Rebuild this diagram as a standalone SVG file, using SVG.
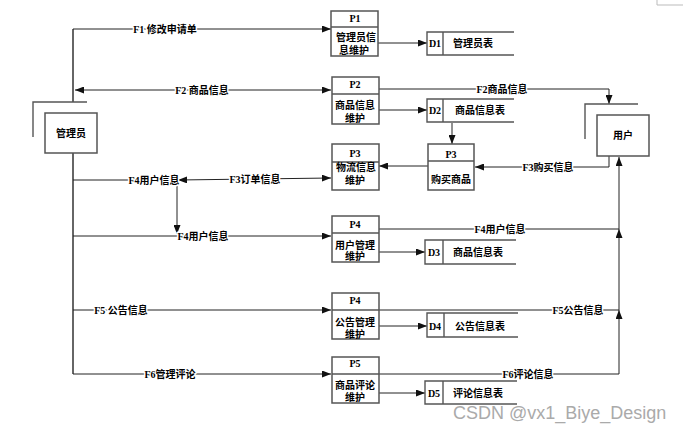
<svg xmlns="http://www.w3.org/2000/svg" width="685" height="431" viewBox="0 0 685 431">
<style>
.box{fill:#fff;stroke:#555;stroke-width:1.5}
.ln{fill:none;stroke:#555;stroke-width:1.4}
.c{fill:none;stroke:#222;stroke-width:1}
.cg{fill:none;stroke:#666;stroke-width:2}
.t{font-family:"Liberation Serif","Noto Sans CJK SC",serif;font-size:10px;font-weight:bold;fill:#000;text-anchor:middle;dominant-baseline:central}
.l{text-anchor:start}
.lb{paint-order:stroke;stroke:#fff;stroke-width:3px;stroke-linejoin:round}
.wm{font-family:"Liberation Sans","DejaVu Sans",sans-serif;font-size:18px;fill:#aaa;paint-order:stroke;stroke:#fff;stroke-width:2px}
</style>
<defs>
<marker id="a" viewBox="0 0 9 7" refX="9" refY="3.5" markerWidth="9" markerHeight="7" markerUnits="userSpaceOnUse" orient="auto-start-reverse">
<path d="M0,0 L9,3.5 L0,7 z" fill="#111"/>
</marker>
</defs>
<path d="M657,0 V5 H683" fill="none" stroke="#bbb" stroke-width="1"/>

<g id="connectors">
<path class="cg" d="M73,102 V29"/>
<path class="c" d="M73,29 H331" marker-end="url(#a)"/>
<path class="c" d="M75,90 H331" marker-start="url(#a)" marker-end="url(#a)"/>
<path class="c" d="M379,89 H609 V104" marker-end="url(#a)"/>
<path class="c" d="M378,43 H427" marker-end="url(#a)"/>
<path class="c" d="M379,110 H427" marker-end="url(#a)"/>
<path class="c" d="M452,123 V144" marker-end="url(#a)"/>
<path class="c" d="M609,156 V167 H475" marker-end="url(#a)"/>
<path class="c" d="M428,166 H379" marker-end="url(#a)"/>
<path class="cg" d="M73,153 V374"/>
<path class="c" d="M73,180 H178"/>
<path class="c" d="M178,180 L331,178" marker-start="url(#a)" marker-end="url(#a)"/>
<path class="c" d="M177,180 V234" marker-end="url(#a)"/>
<path class="c" d="M73,236 H331" marker-end="url(#a)"/>
<path class="c" d="M379,252 H425" marker-end="url(#a)"/>
<path class="c" d="M379,229 H619"/>
<path class="c" d="M73,310 H331" marker-end="url(#a)"/>
<path class="c" d="M379,310 H619"/>
<path class="c" d="M379,326 H427" marker-end="url(#a)"/>
<path class="c" d="M73,374 H331" marker-end="url(#a)"/>
<path class="c" d="M379,374 H619"/>
<path class="c" d="M379,393 H425" marker-end="url(#a)"/>
<path class="c" d="M619,374 V310" marker-end="url(#a)"/>
<path class="c" d="M619,310 V229" marker-end="url(#a)"/>
<path class="c" d="M619,229 V157" marker-end="url(#a)"/>
<text class="t lb" x="165" y="29">F1 修改申请单</text>
<text class="t lb" x="202" y="90">F2 商品信息</text>
<text class="t lb" x="502" y="89">F2商品信息</text>
<text class="t lb" x="548" y="167">F3购买信息</text>
<text class="t lb" x="154" y="180">F4用户信息</text>
<text class="t lb" x="255" y="179">F3订单信息</text>
<text class="t lb" x="203" y="236">F4用户信息</text>
<text class="t lb" x="500" y="229">F4用户信息</text>
<text class="t lb" x="121" y="310">F5 公告信息</text>
<text class="t lb" x="578" y="310">F5公告信息</text>
<text class="t lb" x="170" y="374">F6管理评论</text>
<text class="t lb" x="528" y="374">F6评论信息</text>
</g>

<g id="manager">
<path class="ln" d="M33,137 V102 H87"/>
<rect class="box" x="45" y="113" width="52" height="40"/>
<text class="t" x="71" y="133">管理员</text>
</g>

<g id="user">
<path class="ln" d="M585,139 V104 H638"/>
<rect class="box" x="597" y="115" width="52" height="41"/>
<text class="t" x="623" y="135">用户</text>
</g>

<g id="P1">
<rect class="box" x="331" y="11" width="47" height="45"/>
<path class="ln" d="M331,27 H378"/>
<text class="t" x="355" y="18">P1</text>
<text class="t" x="356" y="37">管理员信</text>
<text class="t" x="354" y="50">息维护</text>
</g>

<g id="D1">
<path class="ln" d="M514,32 H427 V55 H514 M443,32 V55"/>
<text class="t" x="435" y="43">D1</text>
<text class="t l" x="453" y="43">管理员表</text>
</g>

<g id="P2">
<rect class="box" x="332" y="77" width="47" height="47"/>
<path class="ln" d="M332,94 H379"/>
<text class="t" x="355" y="84">P2</text>
<text class="t" x="355" y="105">商品信息</text>
<text class="t" x="355" y="118">维护</text>
</g>

<g id="D2">
<path class="ln" d="M514,99 H427 V122 H514 M443,99 V122"/>
<text class="t" x="435" y="110">D2</text>
<text class="t l" x="455" y="110">商品信息表</text>
</g>

<g id="P3a">
<rect class="box" x="332" y="144" width="47" height="46"/>
<path class="ln" d="M332,162 H379"/>
<text class="t" x="355" y="153">P3</text>
<text class="t" x="356" y="167">物流信息</text>
<text class="t" x="355" y="180">维护</text>
</g>

<g id="P3b">
<rect class="box" x="428" y="144" width="46" height="46"/>
<path class="ln" d="M428,161 H474"/>
<text class="t" x="451" y="154">P3</text>
<text class="t" x="451" y="179">购买商品</text>
</g>

<g id="P4a">
<rect class="box" x="332" y="216" width="47" height="46"/>
<path class="ln" d="M332,233 H379"/>
<text class="t" x="355" y="224">P4</text>
<text class="t" x="355" y="245">用户管理</text>
<text class="t" x="355" y="256">维护</text>
</g>

<g id="D3">
<path class="ln" d="M516,240 H425 V264 H516 M443,240 V264"/>
<text class="t" x="434" y="252">D3</text>
<text class="t l" x="453" y="252">商品信息表</text>
</g>

<g id="P4b">
<rect class="box" x="332" y="293" width="47" height="46"/>
<path class="ln" d="M332,310 H379"/>
<text class="t" x="355" y="300">P4</text>
<text class="t" x="355" y="322">公告管理</text>
<text class="t" x="355" y="334">维护</text>
</g>

<g id="D4">
<path class="ln" d="M518,313 H427 V337 H518 M444,313 V337"/>
<text class="t" x="435" y="326">D4</text>
<text class="t l" x="455" y="326">公告信息表</text>
</g>

<g id="P5">
<rect class="box" x="332" y="357" width="47" height="46"/>
<path class="ln" d="M332,374 H379"/>
<text class="t" x="355" y="363">P5</text>
<text class="t" x="355" y="385">商品评论</text>
<text class="t" x="355" y="397">维护</text>
</g>

<g id="D5">
<path class="ln" d="M517,381 H425 V404 H517 M443,381 V404"/>
<text class="t" x="434" y="393">D5</text>
<text class="t l" x="453" y="393">评论信息表</text>
</g>

<text class="wm" x="453" y="419">CSDN @vx1_Biye_Design</text>
</svg>
